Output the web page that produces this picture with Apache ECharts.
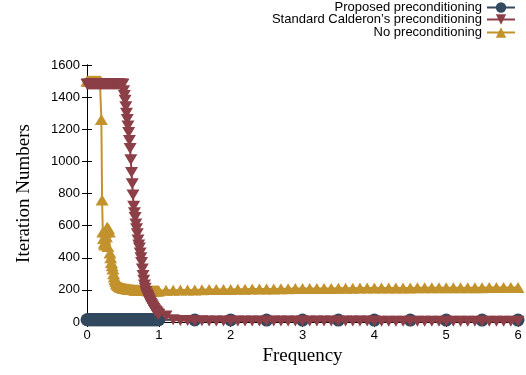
<!DOCTYPE html>
<html>
<head>
<meta charset="utf-8">
<script src="https://cdn.jsdelivr.net/npm/echarts@6/dist/echarts.min.js"></script>
<style>
  html, body { margin: 0; padding: 0; background: #fff; }
  #chart { width: 526px; height: 375px; }
</style>
</head>
<body>
<div id="chart"></div>
<script>
// frequency samples: fine grid below 1, coarse grid above
const freqFine = [
  0, 0.01, 0.02, 0.03, 0.04, 0.05, 0.06, 0.07, 0.08, 0.09,
  0.1, 0.11, 0.12, 0.13, 0.14, 0.15, 0.16, 0.17, 0.18, 0.19,
  0.2, 0.21, 0.22, 0.23, 0.24, 0.25, 0.26, 0.27, 0.28, 0.29,
  0.3, 0.31, 0.32, 0.33, 0.34, 0.35, 0.36, 0.37, 0.38, 0.39,
  0.4, 0.41, 0.42, 0.43, 0.44, 0.45, 0.46, 0.47, 0.48, 0.49,
  0.5, 0.51, 0.52, 0.53, 0.54, 0.55, 0.56, 0.57, 0.58, 0.59,
  0.6, 0.61, 0.62, 0.63, 0.64, 0.65, 0.66, 0.67, 0.68, 0.69,
  0.7, 0.71, 0.72, 0.73, 0.74, 0.75, 0.76, 0.77, 0.78, 0.79,
  0.8, 0.81, 0.82, 0.83, 0.84, 0.85, 0.86, 0.87, 0.88, 0.89,
  0.9, 0.91, 0.92, 0.93, 0.94, 0.95, 0.96, 0.97, 0.98, 0.99,
  1
];
const freqCoarse = [
  1.1, 1.2, 1.3, 1.4, 1.5, 1.6, 1.7, 1.8, 1.9, 2,
  2.1, 2.2, 2.3, 2.4, 2.5, 2.6, 2.7, 2.8, 2.9, 3,
  3.1, 3.2, 3.3, 3.4, 3.5, 3.6, 3.7, 3.8, 3.9, 4,
  4.1, 4.2, 4.3, 4.4, 4.5, 4.6, 4.7, 4.8, 4.9, 5,
  5.1, 5.2, 5.3, 5.4, 5.5, 5.6, 5.7, 5.8, 5.9, 6
];
const freqProposedCoarse = [1.5, 2, 2.5, 3, 3.5, 4, 4.5, 5, 5.5, 6];

const proposedFine = [
  14, 14, 14, 14, 14, 14, 14, 14, 14, 14,
  14, 14, 14, 14, 14, 14, 14, 14, 14, 14,
  14, 14, 14, 14, 14, 14, 14, 14, 14, 14,
  14, 14, 14, 14, 14, 14, 14, 14, 14, 14,
  14, 14, 14, 14, 14, 14, 14, 14, 14, 14,
  14, 14, 14, 14, 14, 14, 14, 14, 14, 14,
  14, 14, 14, 14, 14, 14, 14, 14, 14, 14,
  14, 14, 14, 14, 14, 14, 14, 14, 14, 14,
  14, 14, 14, 14, 14, 14, 14, 14, 14, 14,
  14, 14, 14, 14, 14, 14, 14, 14, 14, 14,
  14
];
const proposedCoarse = [13, 13, 12, 12, 12, 12, 12, 12, 12, 12];

const calderonFine = [
  1480, 1480, 1480, 1480, 1480, 1480, 1480, 1480, 1480, 1480,
  1480, 1480, 1480, 1480, 1480, 1480, 1480, 1480, 1480, 1480,
  1480, 1480, 1480, 1480, 1480, 1480, 1480, 1480, 1480, 1480,
  1480, 1480, 1480, 1480, 1480, 1480, 1480, 1480, 1480, 1480,
  1480, 1480, 1480, 1480, 1480, 1480, 1480, 1480, 1480, 1480,
  1480, 1440, 1410, 1380, 1340, 1300, 1260, 1220, 1180, 1130,
  1080, 1010, 930, 860, 790, 720, 680, 650, 610, 580,
  550, 510, 480, 460, 430, 400, 370, 330, 290, 260,
  230, 210, 190, 175, 165, 155, 145, 135, 125, 115,
  108, 100, 92, 84, 76, 70, 65, 60, 55, 50,
  46
];
const calderonCoarse = [
  38, 14, 10, 9, 8, 8, 7, 7, 7, 7,
  6, 6, 6, 6, 6, 6, 6, 6, 6, 6,
  6, 6, 6, 6, 6, 6, 6, 6, 6, 6,
  5, 5, 5, 5, 5, 5, 5, 5, 5, 5,
  5, 5, 5, 5, 5, 5, 5, 5, 5, 5
];

const noPrecFine = [
  1500, 1500, 1500, 1500, 1500, 1500, 1500, 1500, 1500, 1500,
  1500, 1500, 1500, 1500, 1500, 1500, 1500, 1500, 1500, 1500,
  1260, 760, 560, 520, 490, 480, 560, 530, 590, 470,
  580, 560, 430, 400, 370, 350, 330, 300, 280, 265,
  252, 242, 235, 229, 225, 222, 219, 217, 215, 213,
  212, 211, 210, 209, 208, 207, 206, 206, 205, 205,
  204, 203, 203, 202, 202, 201, 201, 200, 200, 200,
  199, 199, 199, 198, 198, 198, 197, 197, 197, 197,
  196, 196, 196, 196, 196, 195, 195, 195, 195, 195,
  195, 195, 194, 194, 194, 194, 194, 194, 194, 195,
  195
];
const noPrecCoarse = [
  197, 198, 199, 200, 200, 201, 202, 202, 203, 203,
  204, 204, 205, 205, 206, 206, 207, 207, 208, 208,
  208, 209, 209, 209, 210, 210, 210, 211, 211, 211,
  211, 212, 212, 212, 212, 213, 213, 213, 213, 213,
  214, 214, 214, 214, 214, 215, 215, 215, 215, 215
];

const seriesNames = ['Proposed preconditioning', "Standard Calderon\u2019s preconditioning", 'No preconditioning'];
const colors = ['#33495f', '#8c3f47', '#c2922d'];

function zip(xs, ys) {
  return xs.map((x, i) => [x, ys[i]]);
}

const proposedData = zip(freqFine, proposedFine).concat(zip(freqProposedCoarse, proposedCoarse));
const calderonData = zip(freqFine, calderonFine).concat(zip(freqCoarse, calderonCoarse));
const noPrecData = zip(freqFine, noPrecFine).concat(zip(freqCoarse, noPrecCoarse));

const chart = echarts.init(document.getElementById('chart'));

const tickFont = { fontFamily: 'Liberation Sans, Arial, sans-serif', fontSize: 13, color: '#000' };
const nameFont = { fontFamily: 'Liberation Serif, Times New Roman, serif', fontSize: 19, color: '#000' };
const lineBlack = { show: true, lineStyle: { color: '#000', width: 1 } };
const tickIn = { show: true, inside: true, length: 5, lineStyle: { color: '#000', width: 1 } };

function legendAt(name, top) {
  return {
    data: [name],
    right: 10,
    top: top,
    align: 'right',
    itemWidth: 28,
    itemHeight: 13,
    itemGap: 4,
    padding: 0,
    textStyle: { fontFamily: 'Liberation Sans, Arial, sans-serif', fontSize: 13, color: '#000', padding: [0, 0, 0, 0] },
    selectedMode: false
  };
}

chart.setOption({
  animation: false,
  backgroundColor: '#fff',
  color: colors,
  grid: { left: 87, right: 8, top: 65, bottom: 53, containLabel: false },
  legend: [
    legendAt(seriesNames[0], 1),
    legendAt(seriesNames[1], 13),
    legendAt(seriesNames[2], 26)
  ],
  xAxis: [
    {
      type: 'value', min: 0, max: 6, interval: 1, position: 'bottom',
      axisLine: lineBlack, axisTick: tickIn, splitLine: { show: false },
      axisLabel: { ...tickFont, margin: 7 },
      name: 'Frequency', nameLocation: 'middle', nameGap: 25, nameTextStyle: nameFont
    },
    {
      type: 'value', min: 0, max: 6, interval: 1, position: 'top',
      axisLine: lineBlack, axisTick: tickIn, splitLine: { show: false },
      axisLabel: { show: false }
    }
  ],
  yAxis: [
    {
      type: 'value', min: 0, max: 1600, interval: 200, position: 'left',
      axisLine: lineBlack, axisTick: tickIn, splitLine: { show: false },
      axisLabel: { ...tickFont, margin: 7, formatter: v => String(v) },
      name: 'Iteration Numbers', nameLocation: 'middle', nameGap: 53, nameTextStyle: nameFont
    },
    {
      type: 'value', min: 0, max: 1600, interval: 200, position: 'right',
      axisLine: lineBlack, axisTick: tickIn, splitLine: { show: false },
      axisLabel: { show: false }
    }
  ],
  series: [
    {
      name: seriesNames[0], type: 'line', data: proposedData, z: 2,
      symbol: 'circle', symbolSize: 13, showAllSymbol: true,
      lineStyle: { width: 2, color: colors[0] }, itemStyle: { color: colors[0] }
    },
    {
      name: seriesNames[1], type: 'line', data: calderonData, z: 4,
      symbol: 'triangle', symbolRotate: 180, symbolSize: [13, 11], showAllSymbol: true,
      lineStyle: { width: 2, color: colors[1] }, itemStyle: { color: colors[1] }
    },
    {
      name: seriesNames[2], type: 'line', data: noPrecData, z: 3,
      symbol: 'triangle', symbolSize: [13, 11], showAllSymbol: true,
      lineStyle: { width: 2, color: colors[2] }, itemStyle: { color: colors[2] }
    }
  ]
});
</script>
</body>
</html>
